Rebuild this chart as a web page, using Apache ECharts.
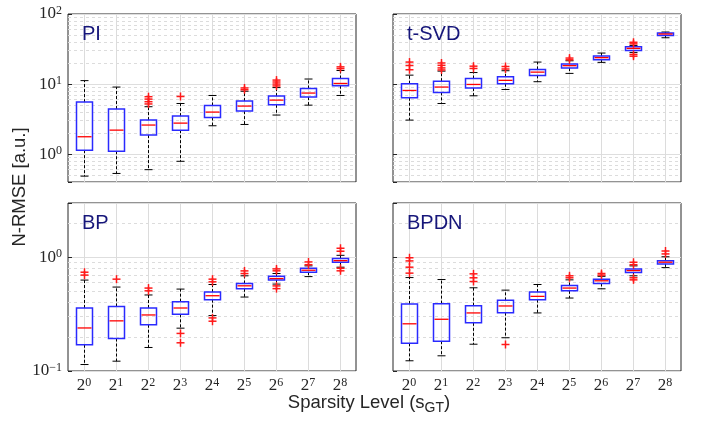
<!DOCTYPE html>
<html>
<head>
<meta charset="utf-8">
<script src="https://cdn.jsdelivr.net/npm/echarts@6/dist/echarts.min.js"></script>
<style>html,body{margin:0;padding:0;background:#fff}#c{width:701px;height:424px}</style>
</head>
<body>
<div id="c"></div>
<script>
// exponents of the sparsity level 2^k
const categories = ['0','1','2','3','4','5','6','7','8'];
const panelNames = ['PI', 't-SVD', 'BP', 'BPDN'];

// box statistics per category: [lower whisker, Q1, median, Q3, upper whisker]
const piStats = [
  [0.485, 1.14, 1.77, 5.53, 11.2],
  [0.53, 1.10, 2.20, 4.40, 9.06],
  [0.60, 1.87, 2.60, 3.06, 4.75],
  [0.79, 2.20, 2.77, 3.49, 5.28],
  [2.54, 3.33, 3.98, 4.95, 6.87],
  [2.65, 4.11, 4.85, 5.72, 7.90],
  [3.61, 5.06, 5.90, 6.74, 8.90],
  [5.00, 6.52, 7.44, 8.65, 11.8],
  [6.87, 9.46, 10.2, 12.0, 15.6]
];
const piOutliers = [
  [2, 5.2], [2, 5.6], [2, 6.1], [2, 6.6],
  [3, 6.65],
  [5, 8.3], [5, 8.8],
  [6, 9.4], [6, 10.0], [6, 10.7], [6, 11.4],
  [8, 16.6], [8, 17.6]
];

const tsvdStats = [
  [3.06, 6.37, 8.10, 10.1, 13.4],
  [5.28, 7.60, 9.06, 11.0, 15.3],
  [6.80, 8.77, 9.87, 12.0, 14.6],
  [8.37, 10.1, 11.3, 12.7, 15.5],
  [10.8, 13.3, 14.8, 16.2, 20.6],
  [14.2, 16.9, 18.3, 19.3, 21.5],
  [20.4, 22.2, 23.8, 25.1, 27.7],
  [28.3, 30.2, 32.3, 34.1, 35.6],
  [45.8, 49.4, 51.8, 53.5, 55.3]
];
const tsvdOutliers = [
  [0, 16.0], [0, 18.4], [0, 20.6],
  [1, 15.9], [1, 17.0], [1, 18.5], [1, 20.0],
  [2, 16.7], [2, 18.0],
  [3, 16.4], [3, 17.8],
  [5, 22.2], [5, 23.5],
  [7, 25.0], [7, 26.5], [7, 37.5], [7, 39.5]
];

const bpStats = [
  [0.114, 0.170, 0.239, 0.358, 0.630],
  [0.122, 0.193, 0.276, 0.370, 0.547],
  [0.161, 0.255, 0.311, 0.358, 0.466],
  [0.238, 0.315, 0.358, 0.407, 0.525],
  [0.307, 0.424, 0.459, 0.494, 0.576],
  [0.447, 0.528, 0.561, 0.588, 0.687],
  [0.581, 0.630, 0.650, 0.682, 0.720],
  [0.676, 0.739, 0.769, 0.801, 0.840],
  [0.818, 0.905, 0.934, 0.973, 1.040]
];
const bpOutliers = [
  [0, 0.697], [0, 0.739],
  [1, 0.642],
  [2, 0.507], [2, 0.536],
  [3, 0.177], [3, 0.214],
  [4, 0.274], [4, 0.293], [4, 0.608], [4, 0.642],
  [5, 0.719], [5, 0.759],
  [6, 0.530], [6, 0.560], [6, 0.760], [6, 0.790],
  [7, 0.860], [7, 0.910],
  [8, 0.760], [8, 0.800], [8, 1.13], [8, 1.20]
];

const bpdnStats = [
  [0.123, 0.175, 0.260, 0.388, 0.663],
  [0.136, 0.183, 0.285, 0.391, 0.637],
  [0.172, 0.265, 0.324, 0.375, 0.539],
  [0.196, 0.326, 0.373, 0.418, 0.514],
  [0.324, 0.424, 0.453, 0.494, 0.576],
  [0.438, 0.507, 0.536, 0.565, 0.633],
  [0.528, 0.588, 0.621, 0.642, 0.680],
  [0.687, 0.734, 0.764, 0.790, 0.840],
  [0.811, 0.874, 0.905, 0.934, 1.010]
];
const bpdnOutliers = [
  [0, 0.725], [0, 0.818], [0, 0.929], [0, 0.990],
  [2, 0.612], [2, 0.660], [2, 0.715],
  [3, 0.171],
  [5, 0.660], [5, 0.687],
  [6, 0.697], [6, 0.720],
  [7, 0.633], [7, 0.660], [7, 0.860], [7, 0.904],
  [8, 1.07], [8, 1.135]
];

// axis ranges and minor grid values
const topRange = [0.4, 100];
const bottomRange = [0.1, 3];
const topMinor = [0.5,0.6,0.7,0.8,0.9,2,3,4,5,6,7,8,9,20,30,40,50,60,70,80,90];
const bottomMinor = [0.2,0.3,0.4,0.5,0.6,0.7,0.8,0.9,2];

const allStats = [piStats, tsvdStats, bpStats, bpdnStats];
const allOutliers = [piOutliers, tsvdOutliers, bpOutliers, bpdnOutliers];

const chart = echarts.init(document.getElementById('c'), null, {renderer: 'canvas'});

const gridPos = [
  {left: 68, top: 14, width: 288, height: 168},
  {left: 393, top: 14, width: 288, height: 168},
  {left: 68, top: 203, width: 288, height: 168},
  {left: 393, top: 203, width: 288, height: 168}
];
const AX = '#262626';
const serif = '"Liberation Serif", "DejaVu Serif", serif';
const sans = '"Liberation Sans", Arial, Helvetica, sans-serif';

const grids = gridPos.map(g => Object.assign({show: true, backgroundColor: '#fff', borderColor: AX, borderWidth: 1, containLabel: false}, g));

const xAxes = gridPos.map((g, i) => ({
  type: 'category', gridIndex: i, data: categories, boundaryGap: true,
  axisLine: {show: false},
  axisTick: {show: true, inside: true, alignWithLabel: true, length: 4, lineStyle: {color: AX}},
  splitLine: {show: false},
  axisLabel: {
    show: i >= 2, interval: 0, margin: 6, color: AX, fontFamily: serif, fontSize: 17,
    formatter: v => '2{sup|' + v + '}',
    rich: {sup: {fontSize: 12, fontFamily: serif, color: AX, verticalAlign: 'top', padding: [0, 0, 6, 0]}}
  }
}));

function logLabel(v) {
  const l = Math.log10(v);
  const r = Math.round(l);
  if (Math.abs(l - r) > 1e-6) return '';
  return '10{sup|' + (r < 0 ? '\u2212' + (-r) : r) + '}';
}

const yAxes = gridPos.map((g, i) => {
  const rng = i < 2 ? topRange : bottomRange;
  return {
    type: 'log', logBase: 10, gridIndex: i, min: rng[0], max: rng[1],
    axisLine: {show: false},
    axisTick: {show: true, inside: true, length: 4, lineStyle: {color: AX}},
    minorTick: {show: false},
    splitLine: {show: true, lineStyle: {color: '#dedede', width: 1}},
    axisLabel: {
      show: i % 2 === 0, margin: 6, color: AX, fontFamily: serif, fontSize: 17,
      formatter: logLabel,
      rich: {sup: {fontSize: 12, fontFamily: serif, color: AX, verticalAlign: 'top', padding: [0, 0, 6, 0]}}
    }
  };
});

// vertical grid line through each category centre, spanning the axis range
// (positions from two interior values, extended to the range ends in log space)
function makeRenderVGrid(range) {
  return function (params, api) {
    const i = api.value(0);
    const v1 = range[0] * 1.5, v2 = range[1] / 1.5;
    const a = api.coord([i, v1]);
    const b = api.coord([i, v2]);
    const k = (b[1] - a[1]) / (Math.log10(v2) - Math.log10(v1));
    const yBot = a[1] + k * (Math.log10(range[0]) - Math.log10(v1));
    const yTop = a[1] + k * (Math.log10(range[1]) - Math.log10(v1));
    const x = Math.round(a[0]);
    return {
      type: 'rect',
      shape: {x: x, y: Math.min(yTop, yBot), width: 1, height: Math.abs(yBot - yTop)},
      style: {fill: '#dcdcdc'}
    };
  };
}

function renderBox(params, api) {
  const i = api.value(0);
  const lo = api.coord([i, api.value(1)]);
  const q1 = api.coord([i, api.value(2)]);
  const md = api.coord([i, api.value(3)]);
  const q3 = api.coord([i, api.value(4)]);
  const hi = api.coord([i, api.value(5)]);
  const band = api.size([1, 1])[0];
  const x = Math.round(lo[0]) + 0.5;
  const bw = band * 0.5;
  const cw = band * 0.125;
  const dash = {stroke: '#000', lineWidth: 1, lineDash: [3, 2]};
  const solid = {stroke: '#000', lineWidth: 1};
  return {
    type: 'group',
    children: [
      {type: 'line', shape: {x1: x, y1: q3[1], x2: x, y2: hi[1]}, style: dash},
      {type: 'line', shape: {x1: x, y1: q1[1], x2: x, y2: lo[1]}, style: dash},
      {type: 'line', shape: {x1: x - cw, y1: hi[1], x2: x + cw, y2: hi[1]}, style: solid},
      {type: 'line', shape: {x1: x - cw, y1: lo[1], x2: x + cw, y2: lo[1]}, style: solid},
      {type: 'rect', shape: {x: x - bw / 2, y: q3[1], width: bw, height: q1[1] - q3[1]},
        style: {fill: 'none', stroke: '#2a2aff', lineWidth: 1.5}},
      {type: 'line', shape: {x1: x - bw / 2 + 1, y1: md[1], x2: x + bw / 2 - 1, y2: md[1]},
        style: {stroke: '#ff0000', lineWidth: 1.3}}
    ]
  };
}

function renderPlus(params, api) {
  const p = api.coord([api.value(0), api.value(1)]);
  const x = Math.round(p[0]) + 0.5;
  const s = 4;
  const st = {stroke: '#ff1a1a', lineWidth: 1.5};
  return {
    type: 'group',
    children: [
      {type: 'line', shape: {x1: x - s, y1: p[1], x2: x + s, y2: p[1]}, style: st},
      {type: 'line', shape: {x1: x, y1: p[1] - s, x2: x, y2: p[1] + s}, style: st}
    ]
  };
}

const series = [];
gridPos.forEach((g, i) => {
  const range = i < 2 ? topRange : bottomRange;
  const minor = i < 2 ? topMinor : bottomMinor;
  series.push({
    type: 'line', xAxisIndex: i, yAxisIndex: i, data: [], z: 1, silent: true,
    markLine: {
      silent: true, z: 1, symbol: ['none', 'none'], label: {show: false}, animation: false,
      data: minor.map(v => ({yAxis: v, lineStyle: {type: [3, 3], color: '#dcdcdc', width: 1}}))
    }
  });
  series.push({
    type: 'custom', xAxisIndex: i, yAxisIndex: i, z: 2, silent: true, clip: false,
    renderItem: makeRenderVGrid(range),
    encode: {x: 0, y: 1},
    data: categories.map((c, k) => [k, range[0] * 1.5])
  });
  series.push({
    type: 'custom', xAxisIndex: i, yAxisIndex: i, z: 3, silent: true,
    renderItem: renderBox,
    encode: {x: 0, y: [1, 2, 3, 4, 5]},
    data: allStats[i].map((s, k) => [k].concat(s))
  });
  series.push({
    type: 'custom', xAxisIndex: i, yAxisIndex: i, z: 4, silent: true,
    renderItem: renderPlus,
    encode: {x: 0, y: 1},
    data: allOutliers[i]
  });
});

const titles = gridPos.map((g, i) => ({
  text: panelNames[i], left: g.left + 14, top: g.top + 10, padding: 0,
  textStyle: {color: '#16167a', fontSize: 20, fontWeight: 'normal', fontFamily: sans}
}));

chart.setOption({
  animation: false,
  backgroundColor: '#fff',
  title: titles,
  grid: grids,
  xAxis: xAxes,
  yAxis: yAxes,
  series: series,
  graphic: [
    {type: 'text', x: 20, y: 187, rotation: Math.PI / 2,
      style: {text: 'N-RMSE [a.u.]', fill: AX, font: '18.5px ' + sans, align: 'center', verticalAlign: 'middle'}},
    {type: 'text', x: 369, y: 403,
      style: {text: 'Sparsity Level (s{sub|GT})', fill: AX, font: '18.5px ' + sans, align: 'center', verticalAlign: 'middle',
        rich: {sub: {fontSize: 14, fontFamily: sans, fill: AX, verticalAlign: 'bottom', padding: [10, 0, 0, 0]}}}}
  ]
});
</script>
</body>
</html>
